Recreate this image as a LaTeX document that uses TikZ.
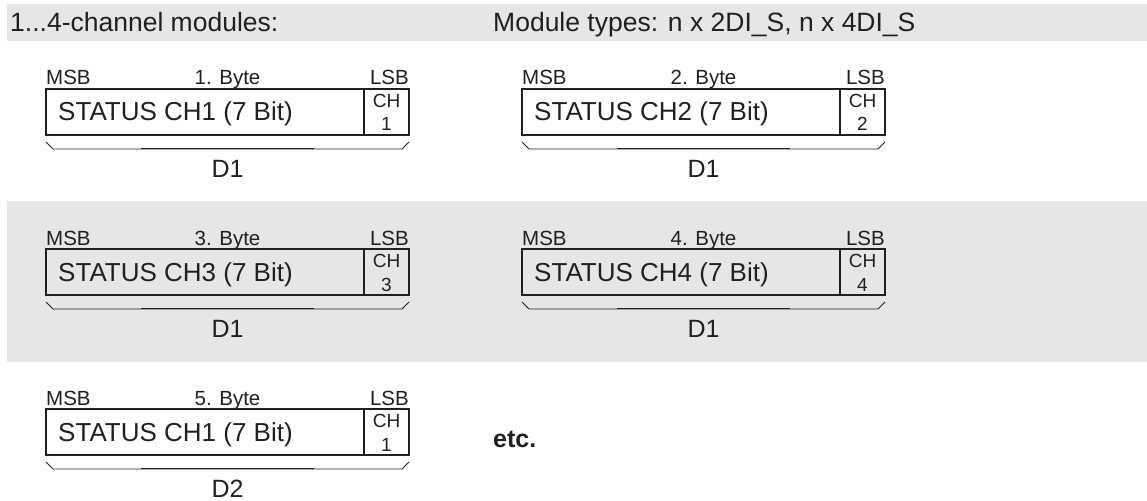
\documentclass[tikz,border=0pt]{standalone}
\usepackage{fontspec}
\setmainfont{Liberation Sans}
\usetikzlibrary{calc}
\definecolor{bandgray}{RGB}{230,230,230}
\definecolor{ink}{RGB}{35,31,32}
\begin{document}
\begin{tikzpicture}[x=1pt,y=-1pt,
  band/.style={fill=bandgray,draw=none},
  headtext/.style={font=\fontsize{26.5}{30}\selectfont,text=ink,inner sep=0pt,anchor=base west},
  bytebox/.style={draw=ink,line width=1.8pt,minimum width=363pt,minimum height=46pt,inner sep=0pt,outer sep=0pt,anchor=north west},
  boxline/.style={draw=ink,line width=1.8pt},
  smalltext/.style={font=\fontsize{20.5}{24}\selectfont,text=ink,inner sep=0pt},
  stattext/.style={font=\fontsize{26}{30}\selectfont,text=ink,inner sep=0pt,anchor=base west},
  chtext/.style={font=\fontsize{19}{22}\selectfont,text=ink,inner sep=0pt,anchor=base},
  bracestyle/.style={draw=ink,line width=0.9pt},
  bracemid/.style={draw=ink,line width=1.4pt},
  dtext/.style={font=\fontsize{25}{30}\selectfont,text=ink,inner sep=0pt,anchor=base},
  etctext/.style={font=\fontsize{25}{30}\selectfont\bfseries,text=ink,inner sep=0pt,anchor=base west}
]
\useasboundingbox (0,0) rectangle (1147,500);
% background bands
\fill[band] (7,4) rectangle (1147,41);
\fill[band] (7,201) rectangle (1147,362);
% header
\node[headtext] (hleft) at (10,32) {1...4-channel modules:};
\node[headtext] (hright) at (493,32) {Module types: n x 2DI\_S, n x 4DI\_S};
% byte fields
\foreach \x/\y/\n/\c/\d in {46/89/1/1/D1, 522/89/2/2/D1, 46/249/3/3/D1, 522/249/4/4/D1, 46/409/5/1/D2} {
  \node[bytebox] (box\n) at (\x,\y) {};
  \coordinate (divt\n) at ($(box\n.north east)+(-45,0)$);
  \coordinate (divb\n) at ($(box\n.south east)+(-45,0)$);
  \draw[boxline] (divt\n) -- (divb\n);
  \node[smalltext,anchor=base west] (msb\n) at (\x,\y-4) {MSB};
  \node[smalltext,anchor=base east] (lsb\n) at (\x+363,\y-4) {LSB};
  \node[smalltext,anchor=base] (byte\n) at (\x+181.5,\y-4) {\n. Byte};
  \node[stattext] (st\n) at (\x+12,\y+32) {STATUS CH\c\ (7 Bit)};
  \node[chtext] (ch\n) at (\x+340.5,\y+18) {CH};
  \node[chtext] (chn\n) at (\x+340.5,\y+42) {\c};
  \coordinate (bl\n) at ($(box\n.south west)+(0,7)$);
  \coordinate (br\n) at ($(box\n.south east)+(0,7)$);
  \draw[bracestyle] (bl\n) -- ++(7,7) -- ($(br\n)+(-7,7)$) -- (br\n);
  \draw[bracemid] ($(bl\n)+(95,6.6)$) -- ($(br\n)+(-95,6.6)$);
  \node[dtext] (d\n) at (\x+181.5,\y+88) {\d};
}
\node[etctext] (etc) at (493,447) {etc.};
\end{tikzpicture}
\end{document}
